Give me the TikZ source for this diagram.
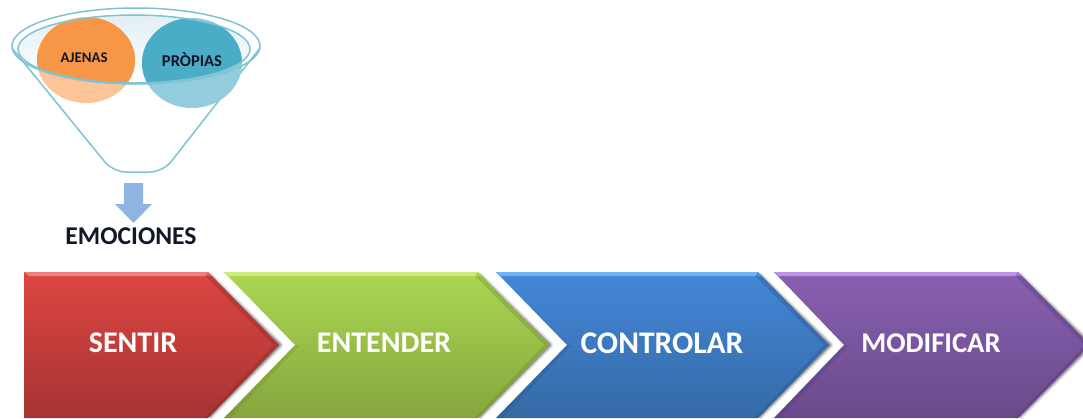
\documentclass[tikz,border=0pt]{standalone}
\usepackage{fontspec}
\setmainfont{Carlito}
\definecolor{rimc}{HTML}{7FC3D3}
\definecolor{ptop}{HTML}{8860B0}\definecolor{pbot}{HTML}{6A4A8C}\definecolor{plit}{HTML}{BD94E4}\definecolor{pdrk}{HTML}{4A3070}
\definecolor{btop}{HTML}{4487D8}\definecolor{bbot}{HTML}{356AA6}\definecolor{blit}{HTML}{70B4F5}\definecolor{bdrk}{HTML}{20487A}
\definecolor{gtop}{HTML}{ABD752}\definecolor{gbot}{HTML}{86A63E}\definecolor{glit}{HTML}{CDEB80}\definecolor{gdrk}{HTML}{5F7A28}
\definecolor{rtop}{HTML}{DD4643}\definecolor{rbot}{HTML}{A53432}\definecolor{rlit}{HTML}{F08080}\definecolor{rdrk}{HTML}{7A2020}
\definecolor{orsolid}{HTML}{F79646}\definecolor{orlight}{HTML}{FBC597}
\definecolor{tesolid}{HTML}{4BACC6}\definecolor{telight}{HTML}{93CDDD}
\definecolor{bowl}{HTML}{E2EFF4}\definecolor{arrowc}{HTML}{8EB4E3}
\definecolor{inkc}{HTML}{101828}
\tikzset{
  rim/.style={draw=rimc,line width=1.5pt},
  lbl/.style={font=\bfseries\fontsize{#1}{32}\selectfont,text=white,inner sep=0pt},
  small/.style={font=\bfseries\fontsize{#1}{15}\selectfont,text=inkc,inner sep=0pt},
  emo/.style={font=\bfseries\fontsize{25.6}{28}\selectfont,text=inkc,inner sep=0pt},
}
% #1 left top, #2 notch x, #3 top right, #4 tip x, #5 top col, #6 bot col, #7 light, #8 dark
\newcommand{\chevronshape}[8]{%
  \foreach \w/\o in {7/.07,5/.10,3/.14,1.5/.2}
    \draw[black,opacity=\o,line width=\w pt,line join=round] (#3+1,275) -- (#4+1,345) -- (#3+1,417);
  \shade[top color=#5,bottom color=#6] (#1,272) -- (#3,272) -- (#4,345) -- (#3,418) -- (#1,418) -- (#2,345) -- cycle;
  \fill[#7] (#1,272) -- (#3,272) -- (#3+4,276) -- (#1+5,276) -- cycle;
  \fill[#8,opacity=.28] (#3,272) -- (#4,345) -- (#3,418) -- (#3-3,418) -- (#4-5,345) -- (#3-3,276) -- cycle;
}
% lower notch bevel: #1 left bottom, #2 notch x, #3 dark
\newcommand{\notchbevel}[3]{%
  \fill[#3,opacity=.22] (#1,418) -- (#2,345) -- (#2+5,345) -- (#1+6,418) -- cycle;
}
\begin{document}
\begin{tikzpicture}[x=1pt,y=-1pt]
\useasboundingbox (0,0) rectangle (1083,418);
% funnel
\draw[rim,rounded corners=13pt,line join=round] (12,48) -- (113,172) -- (163,172) -- (260,48);
\shade[top color=bowl,bottom color=white] (134,49) ellipse [x radius=116pt,y radius=34pt];
\fill[orlight] (86,60) ellipse [x radius=49pt,y radius=43pt];
\fill[telight] (192,63) ellipse [x radius=50pt,y radius=45pt];
\begin{scope}
  \clip (134,49) ellipse [x radius=116pt,y radius=34pt];
  \fill[orsolid] (86,60) ellipse [x radius=49pt,y radius=43pt];
  \fill[tesolid] (192,63) ellipse [x radius=50pt,y radius=45pt];
\end{scope}
\draw[rim] (134,49) ellipse [x radius=116pt,y radius=34pt];
\draw[rim] (136,46) ellipse [x radius=124pt,y radius=38pt];
\node[small=14.8] (ajenas) at (84,58) {AJENAS};
\node[small=16.5] (propias) at (192,60) {PRÒPIAS};
\node[emo] (emociones) at (131,236) {EMOCIONES};
\fill[arrowc] (124,183) -- (143,183) -- (143,204) -- (152,204) -- (133.5,223) -- (115,204) -- (124,204) -- cycle;
% chevrons
\chevronshape{774}{844}{1018}{1090}{ptop}{pbot}{plit}{pdrk}
\notchbevel{774}{844}{pdrk}
\chevronshape{496}{567}{758}{829}{btop}{bbot}{blit}{bdrk}
\notchbevel{496}{567}{bdrk}
\chevronshape{224}{295}{478}{549}{gtop}{gbot}{glit}{gdrk}
\notchbevel{224}{295}{gdrk}
\chevronshape{24}{24}{208}{279}{rtop}{rbot}{rlit}{rdrk}
\node[lbl=30] (sentir) at (133,343) {SENTIR};
\node[lbl=30] (entender) at (384,343) {ENTENDER};
\node[lbl=31.5] (controlar) at (662,343) {CONTROLAR};
\node[lbl=28.6] (modificar) at (931,343) {MODIFICAR};
\end{tikzpicture}
\end{document}
